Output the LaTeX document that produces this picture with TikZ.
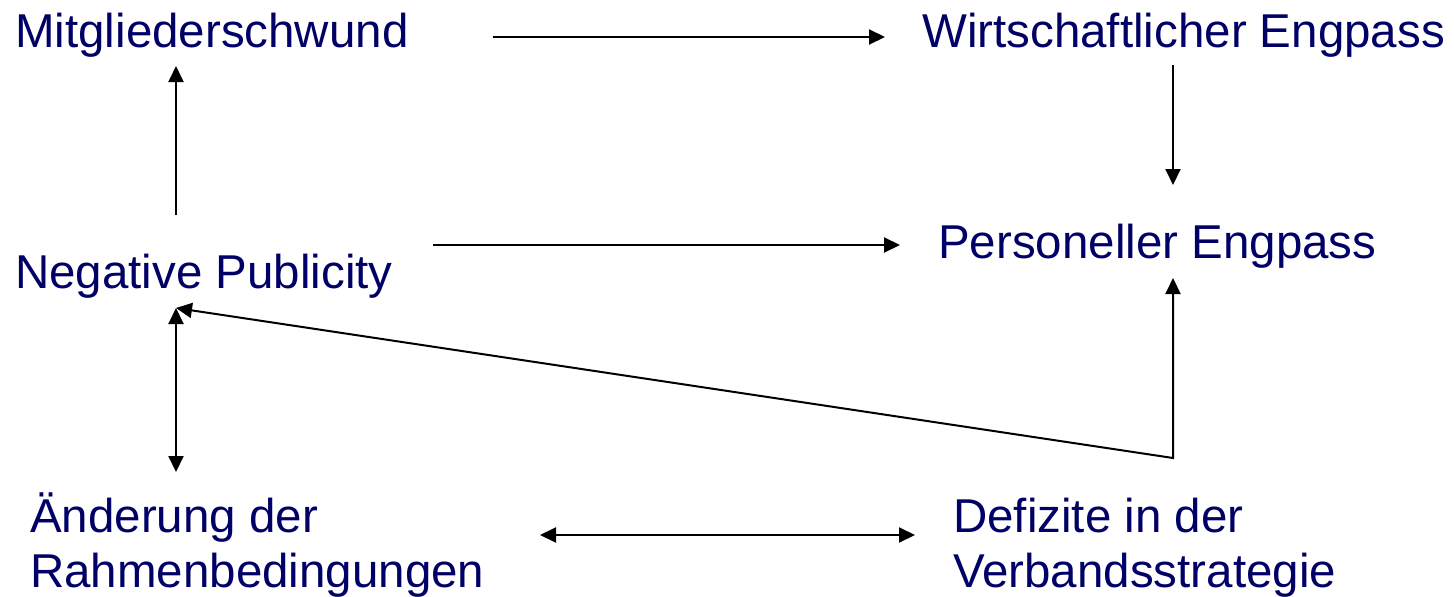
\documentclass[tikz,border=0pt]{standalone}
\usepackage{fontspec}
\setmainfont{Liberation Sans}
\usetikzlibrary{arrows.meta}
\definecolor{navy}{RGB}{0,0,102}
\tikzset{
  begriff/.style={anchor=base west, inner sep=0pt, text=navy,
    font=\fontsize{47.5}{55}\selectfont},
  pfeil/.style={-{Triangle[length=16pt,width=15pt]}, line width=2pt},
  doppelpfeil/.style={{Triangle[length=16pt,width=15pt]}-{Triangle[length=16pt,width=15pt]}, line width=2pt}
}
\newcommand{\zweizeilig}[2]{\begin{tabular}[t]{@{}l@{}}#1\\#2\end{tabular}}

\begin{document}
\begin{tikzpicture}[x=1pt, y=-1pt]
        \useasboundingbox (0,0) rectangle (1454,597);

        \node[begriff] (mitglied)   at (15,47)   {Mitgliederschwund};
        \node[begriff] (wirtschaft) at (922,47)  {Wirtschaftlicher Engpass};
        \node[begriff] (personell)  at (938,258) {Personeller Engpass};
        \node[begriff] (publicity)  at (15,288)  {Negative Publicity};
        \node[begriff] (aenderung)  at (30,532)  {\zweizeilig{Änderung der}{Rahmenbedingungen}};
        \node[begriff] (defizite)   at (953,532) {\zweizeilig{Defizite in der}{Verbandsstrategie}};

        \coordinate (knick) at ([xshift=220pt,yshift=74pt]defizite.base west);

            \path[draw=black]   ([xshift=478pt,yshift=10pt]mitglied.base west)   edge[pfeil] ([xshift=-37pt,yshift=10pt]wirtschaft.base west)
                                ([xshift=251pt,yshift=-18pt]wirtschaft.base west) edge[pfeil] ([xshift=235pt,yshift=73pt]personell.base west)
                                ([xshift=161pt,yshift=73pt]publicity.base west)  edge[pfeil] ([xshift=161pt,yshift=-19pt]mitglied.base west)
                                ([xshift=418pt,yshift=43pt]publicity.base west)  edge[pfeil] ([xshift=-38pt,yshift=13pt]personell.base west)
            ;
            \path[draw=black]   ([xshift=161pt,yshift=-20pt]publicity.base west) edge[doppelpfeil] ([xshift=146pt,yshift=60pt]aenderung.base west)
                                ([xshift=510pt,yshift=-3pt]aenderung.base west)  edge[doppelpfeil] ([xshift=-38pt,yshift=-3pt]defizite.base west)
            ;
            \draw[doppelpfeil]  ([xshift=161pt,yshift=-20pt]publicity.base west) -- (knick)
                                -- ([xshift=235pt,yshift=-20pt]personell.base west);
\end{tikzpicture}
\end{document}
